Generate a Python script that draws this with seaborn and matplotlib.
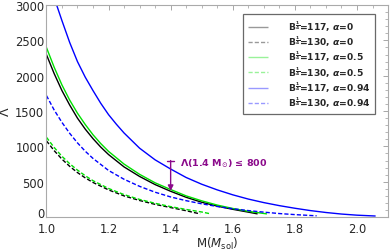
import numpy as np
import pandas as pd
import seaborn as sns
from matplotlib import pyplot as plt
from matplotlib.ticker import MultipleLocator

# masses (M_sol) and tidal deformability
m_117_a0 = [1.0, 1.025, 1.05, 1.075, 1.1, 1.125, 1.15, 1.175, 1.2, 1.25, 1.3, 1.35, 1.4,
            1.45, 1.5, 1.55, 1.6, 1.65, 1.68]
lam_117_a0 = [2300, 2030, 1790, 1585, 1400, 1245, 1110, 990, 885, 710, 575, 460, 365,
              280, 210, 155, 110, 70, 45]

m_130_a0 = [1.0, 1.025, 1.05, 1.075, 1.1, 1.125, 1.15, 1.2, 1.25, 1.3, 1.35, 1.4, 1.45, 1.495]
lam_130_a0 = [1080, 940, 820, 718, 630, 555, 490, 385, 300, 235, 180, 135, 90, 45]

m_117_a05 = [1.0, 1.025, 1.05, 1.075, 1.1, 1.125, 1.15, 1.175, 1.2, 1.25, 1.3, 1.35, 1.4,
             1.45, 1.5, 1.55, 1.6, 1.65, 1.71]
lam_117_a05 = [2400, 2120, 1870, 1655, 1470, 1310, 1165, 1040, 930, 750, 605, 485, 390,
               300, 230, 170, 122, 82, 45]

m_130_a05 = [1.0, 1.025, 1.05, 1.075, 1.1, 1.125, 1.15, 1.2, 1.25, 1.3, 1.35, 1.4, 1.45,
             1.5, 1.53]
lam_130_a05 = [1130, 985, 860, 755, 665, 585, 515, 405, 318, 250, 195, 148, 108, 72, 45]

m_117_a094 = [1.033, 1.05, 1.075, 1.1, 1.125, 1.15, 1.175, 1.2, 1.225, 1.25, 1.3, 1.35,
              1.4, 1.45, 1.5, 1.55, 1.6, 1.65, 1.7, 1.75, 1.8, 1.85, 1.9, 1.95, 2.0, 2.06]
lam_117_a094 = [3000, 2780, 2470, 2200, 1980, 1790, 1610, 1450, 1315, 1190, 975, 810,
                680, 560, 465, 385, 315, 255, 205, 162, 125, 92, 65, 43, 27, 15]

m_130_a094 = [1.0, 1.025, 1.05, 1.075, 1.1, 1.125, 1.15, 1.2, 1.25, 1.3, 1.35, 1.4, 1.45,
              1.5, 1.55, 1.6, 1.65, 1.7, 1.75, 1.8, 1.87]
lam_130_a094 = [1720, 1515, 1340, 1185, 1050, 932, 830, 660, 535, 435, 352, 285, 232,
                188, 150, 118, 92, 70, 50, 35, 18]

x_ticks = [1.0, 1.2, 1.4, 1.6, 1.8, 2.0]
x_tick_labels = ["1.0", "1.2", "1.4", "1.6", "1.8", "2.0"]
y_ticks = [0, 500, 1000, 1500, 2000, 2500, 3000]
y_tick_labels = ["0", "500", "1000", "1500", "2000", "2500", "3000"]

labels = [r"$\mathbf{B^{\frac{1}{4}}}$=117, $\boldsymbol{\alpha}$=0",
          r"$\mathbf{B^{\frac{1}{4}}}$=130, $\boldsymbol{\alpha}$=0",
          r"$\mathbf{B^{\frac{1}{4}}}$=117, $\boldsymbol{\alpha}$=0.5",
          r"$\mathbf{B^{\frac{1}{4}}}$=130, $\boldsymbol{\alpha}$=0.5",
          r"$\mathbf{B^{\frac{1}{4}}}$=117, $\boldsymbol{\alpha}$=0.94",
          r"$\mathbf{B^{\frac{1}{4}}}$=130, $\boldsymbol{\alpha}$=0.94"]
masses = [m_117_a0, m_130_a0, m_117_a05, m_130_a05, m_117_a094, m_130_a094]
lambdas = [lam_117_a0, lam_130_a0, lam_117_a05, lam_130_a05, lam_117_a094, lam_130_a094]
colors = ["black", "black", "#00e000", "#00e000", "#0000ff", "#0000ff"]
dashes = [(1, 0), (3, 1.5), (1, 0), (3, 1.5), (1, 0), (3, 1.5)]

arrow_m, arrow_top, arrow_tip = 1.4, 800, 370

rows = []
for lab, ms, ls in zip(labels, masses, lambdas):
    for m, l in zip(ms, ls):
        rows.append({"M": m, "Lambda": l, "curve": lab})
df = pd.DataFrame(rows)

sns.set_style("white")
plt.rcParams['font.family'] = ['DejaVu Sans']
plt.rcParams['mathtext.fontset'] = 'dejavusans'
fig = plt.figure(figsize=(3.9, 2.53), dpi=100)
ax = fig.add_axes([0.119, 0.138, 0.876, 0.838])

sns.lineplot(data=df, x="M", y="Lambda", hue="curve", style="curve",
             hue_order=labels, style_order=labels,
             palette=dict(zip(labels, colors)), dashes=dict(zip(labels, dashes)),
             estimator=None, sort=False, linewidth=1.0, ax=ax)

# constraint arrow
purple = "#8b0a8b"
ax.annotate("", xy=(arrow_m, arrow_tip), xytext=(arrow_m, arrow_top),
            arrowprops=dict(arrowstyle="-|>", color=purple, lw=1.0,
                            mutation_scale=8, shrinkA=0, shrinkB=0))
ax.plot([arrow_m - 0.012, arrow_m + 0.012], [arrow_top, arrow_top], color=purple, lw=1.0)
ax.text(arrow_m + 0.03, arrow_top - 30, r"Λ(1.4 M$_{\odot}$) ≤ 800", color=purple,
        fontsize=6.8, fontweight="bold", va="center")

ax.set_xticks(x_ticks, x_tick_labels)
ax.set_yticks(y_ticks, y_tick_labels)
ax.set_xlim(1.0, 2.1)
ax.set_ylim(0, 3000)
ax.xaxis.set_minor_locator(MultipleLocator(0.05))
ax.yaxis.set_minor_locator(MultipleLocator(100))
ax.tick_params(which="both", direction="in", top=True, right=True, color="#999999",
               labelsize=8.3)
ax.tick_params(axis="x", pad=3.5)
ax.tick_params(axis="y", pad=1.5)
ax.tick_params(which="major", length=3.5, width=0.6)
ax.tick_params(which="minor", length=2, width=0.5)
for t in ax.yaxis.get_major_ticks():
    if t.get_loc() == 0:
        t.label1.set_verticalalignment("baseline")
for s in ax.spines.values():
    s.set_color("#aaaaaa")
    s.set_linewidth(0.8)
ax.set_xlabel(r"M($M_{\rm sol}$)", fontsize=8.5, labelpad=0)
ax.set_ylabel("Λ", fontsize=9, labelpad=2)

leg = ax.legend(loc="upper right", bbox_to_anchor=(0.962, 0.957), borderaxespad=0,
                prop={"size": 6.6, "weight": "bold"}, frameon=True, fancybox=False,
                handlelength=2.2, handletextpad=2.2, borderpad=0.5, labelspacing=0.08)
leg.get_frame().set_edgecolor("#444444")
leg.get_frame().set_linewidth(0.9)
for h in leg.get_lines():
    h.set_alpha(0.4)

fig.savefig("out.png", dpi=100)
